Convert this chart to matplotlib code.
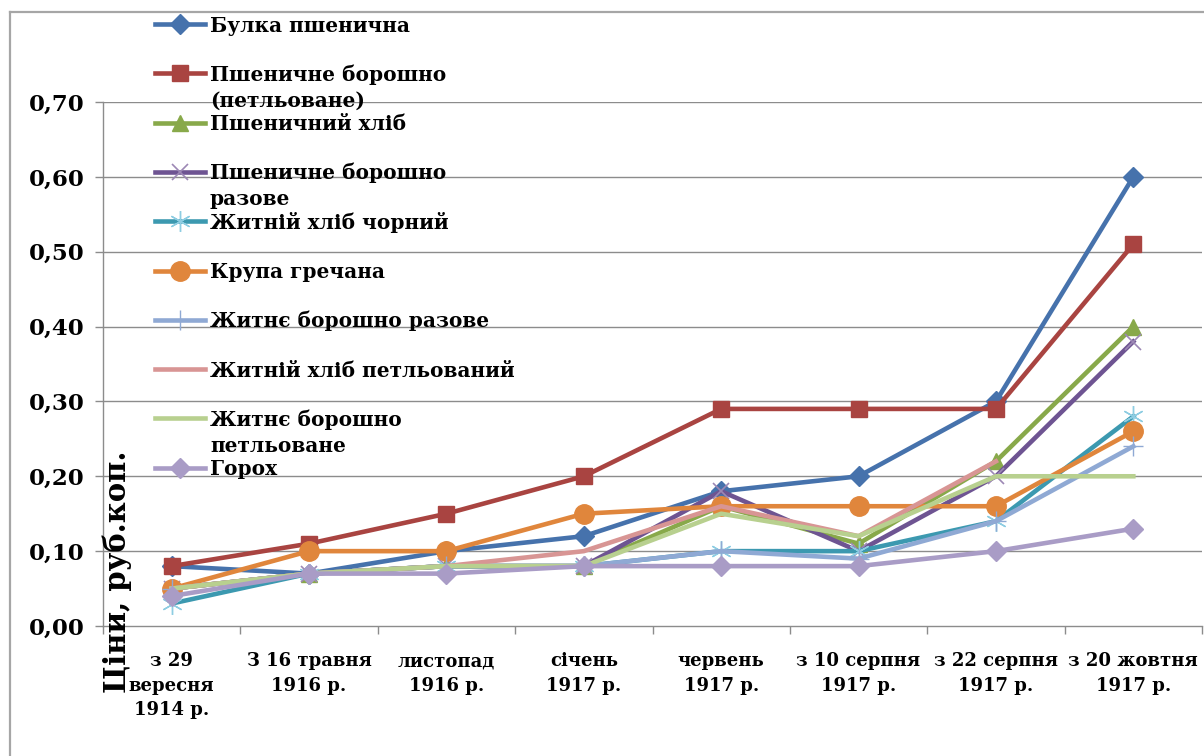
import matplotlib
matplotlib.use("Agg")
import matplotlib.pyplot as plt
from matplotlib.lines import Line2D
import numpy as np

W, H = 1204, 756

categories = ["з 29\nвересня\n1914 р.", "З 16 травня\n1916 р.", "листопад\n1916 р.",
              "січень\n1917 р.", "червень\n1917 р.", "з 10 серпня\n1917 р.",
              "з 22 серпня\n1917 р.", "з 20 жовтня\n1917 р."]

names = ["Булка пшенична", "Пшеничне борошно\n(петльоване)", "Пшеничний хліб",
         "Пшеничне борошно\nразове", "Житній хліб чорний", "Крупа гречана",
         "Житнє борошно разове", "Житній хліб петльований",
         "Житнє борошно\nпетльоване", "Горох"]

bulka = [0.08, 0.07, 0.10, 0.12, 0.18, 0.20, 0.30, 0.60]
pshen_bor_petl = [0.08, 0.11, 0.15, 0.20, 0.29, 0.29, 0.29, 0.51]
pshen_khlib = [0.05, 0.07, 0.08, 0.08, 0.16, 0.11, 0.22, 0.40]
pshen_bor_raz = [0.05, 0.07, 0.08, 0.08, 0.18, 0.10, 0.20, 0.38]
zhyt_khlib_chorn = [0.03, 0.07, 0.08, 0.08, 0.10, 0.10, 0.14, 0.28]
krupa = [0.05, 0.10, 0.10, 0.15, 0.16, 0.16, 0.16, 0.26]
zhyt_bor_raz = [0.05, 0.07, 0.08, 0.08, 0.10, 0.09, 0.14, 0.24]
zhyt_khlib_petl = [0.05, 0.07, 0.08, 0.10, 0.16, 0.12, 0.22, np.nan]
zhyt_bor_petl = [0.05, 0.07, 0.08, 0.08, 0.15, 0.12, 0.20, 0.20]
horokh = [0.04, 0.07, 0.07, 0.08, 0.08, 0.08, 0.10, 0.13]

series = [bulka, pshen_bor_petl, pshen_khlib, pshen_bor_raz, zhyt_khlib_chorn,
          krupa, zhyt_bor_raz, zhyt_khlib_petl, zhyt_bor_petl, horokh]

yticks = [0.0, 0.1, 0.2, 0.3, 0.4, 0.5, 0.6, 0.7]
ytick_labels = ["0,00", "0,10", "0,20", "0,30", "0,40", "0,50", "0,60", "0,70"]

colors = ['#4672AC', '#A94441', '#88A94A', '#6E5492', '#3C99B0',
          '#E0863C', '#8FA9D4', '#D89594', '#B8D08F', '#A99CC6']
styles = [
    dict(marker='D', ms=10, mfc=colors[0], mec=colors[0]),
    dict(marker='s', ms=12, mfc=colors[1], mec=colors[1]),
    dict(marker='^', ms=12, mfc=colors[2], mec=colors[2]),
    dict(marker='x', ms=12, mew=1.2, mec='#9C88B5'),
    dict(marker=(6, 2, 0), ms=15, mew=1.0, mec='#8ECDE2'),
    dict(marker='o', ms=14, mfc=colors[5], mec=colors[5]),
    dict(marker='+', ms=15, mew=1.0, mec=colors[6]),
    dict(marker=None),
    dict(marker=None),
    dict(marker='D', ms=10, mfc=colors[9], mec=colors[9]),
]

FONT = ['DejaVu Serif']
plt.rcParams['font.family'] = FONT
plt.rcParams['font.weight'] = 'bold'

fig = plt.figure(figsize=(W / 100, H / 100), dpi=100)
fig.patch.set_facecolor('white')
fig.patch.set_linewidth(0)

# outer frame (only left and top edges are visible in the reference)
frame_col = '#A6A6A6'
fig.add_artist(Line2D([10 / W, 10 / W], [0, 1 - 12 / H], transform=fig.transFigure,
                      color=frame_col, lw=1.6))
fig.add_artist(Line2D([10 / W, 1.01], [1 - 12 / H, 1 - 12 / H], transform=fig.transFigure,
                      color=frame_col, lw=1.6))

ax = fig.add_axes([103 / W, 1 - 626 / H, (1202 - 103) / W, (626 - 102) / H])
ax.set_facecolor('none')
ax.patch.set_linewidth(0)
x = np.arange(len(categories))

grid_col = '#8C8C8C'
for yv in yticks[1:]:
    ax.axhline(yv, color=grid_col, lw=1.0, zorder=0)

LW = 3.3
for vals, col, st in zip(series, colors, styles):
    ax.plot(x, vals, color=col, lw=LW, solid_joinstyle='round', zorder=3, **st)

ax.set_xlim(-0.5, len(categories) - 0.5)
ax.set_ylim(0, 0.70)

ax.spines['top'].set_visible(False)
ax.spines['right'].set_visible(False)
for s in ['left', 'bottom']:
    ax.spines[s].set_color(grid_col)
    ax.spines[s].set_linewidth(1.0)

ax.set_yticks(yticks)
ax.set_yticklabels(ytick_labels, fontsize=16.5, fontweight='bold')
ax.tick_params(axis='y', direction='out', length=6, width=1.0, color=grid_col, pad=7)

ax.set_xticks(np.arange(-0.5, len(categories)), minor=False)
ax.set_xticklabels([])
ax.tick_params(axis='x', which='major', direction='out', length=6, width=1.0, color=grid_col)
ax.set_xticks(x, minor=True)
ax.set_xticklabels(categories, minor=True, fontsize=13, fontweight='bold', linespacing=1.45)
ax.tick_params(axis='x', which='minor', length=0, pad=19)

fig.text(117 / W, 1 - 572 / H, "Ціни, руб.коп.", rotation=90, fontsize=21,
         fontweight='bold', ha='center', va='center')

# legend (manual, Excel-like even spacing; extra label lines hang below the marker)
y0, dy, line_dy = 24, 49.3, 26
for i, (name, col, st) in enumerate(zip(names, colors, styles)):
    ypx = y0 + i * dy
    yc = 1 - ypx / H
    fig.add_artist(Line2D([155 / W, 180 / W, 205 / W], [yc, yc, yc], transform=fig.transFigure,
                          color=col, lw=LW, markevery=[1], **st))
    for j, part in enumerate(name.split("\n")):
        fig.text(210 / W, 1 - (ypx + 7.5 + j * line_dy) / H, part, fontsize=14.5,
                 fontweight='bold', ha='left', va='baseline')

fig.savefig("out.png", dpi=100, facecolor='white')
